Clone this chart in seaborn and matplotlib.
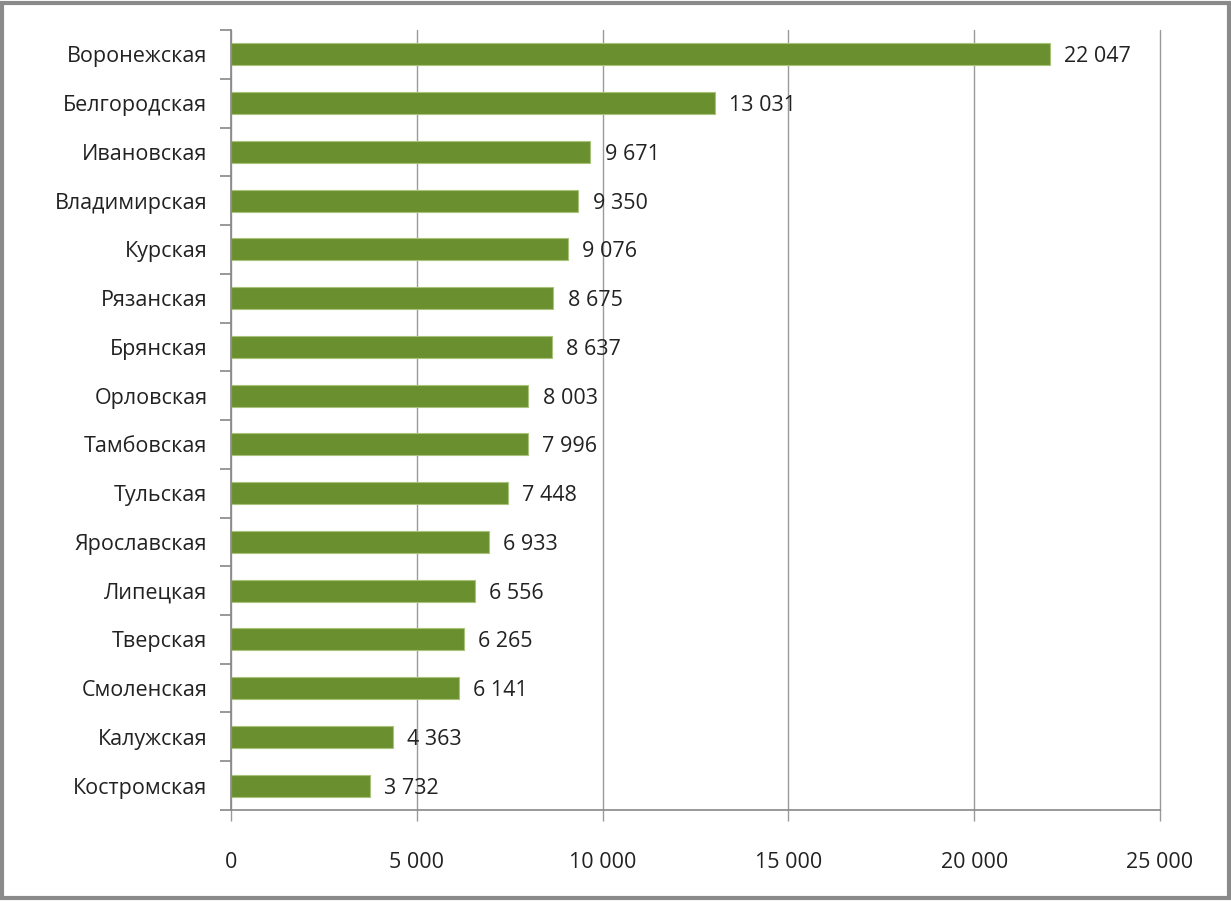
import matplotlib
matplotlib.use("Agg")
import matplotlib.pyplot as plt
import seaborn as sns
import pandas as pd
import numpy as np
from matplotlib.patches import Rectangle

regions = ["Воронежская", "Белгородская", "Ивановская", "Владимирская", "Курская",
           "Рязанская", "Брянская", "Орловская", "Тамбовская", "Тульская",
           "Ярославская", "Липецкая", "Тверская", "Смоленская", "Калужская", "Костромская"]
values = [22047, 13031, 9671, 9350, 9076, 8675, 8637, 8003, 7996, 7448,
          6933, 6556, 6265, 6141, 4363, 3732]
xticks = [0, 5000, 10000, 15000, 20000, 25000]

def fmt(v):
    return f"{v:,}".replace(",", " ")

sns.set_theme(style="white")
plt.rcParams['font.family'] = ['Open Sans', 'DejaVu Sans']

df = pd.DataFrame({"region": regions, "value": values})

fig = plt.figure(figsize=(12.31, 9.01), dpi=100)
ax = fig.add_axes([0.1877, 0.101, 0.9423 - 0.1877, 0.9667 - 0.101])

sns.barplot(data=df, y="region", x="value", orient="h", color="#6a8f2f",
            width=0.45, ax=ax, saturation=1, edgecolor="#a9c47a", linewidth=0.8)

ax.set_xlim(0, 25000)
ax.set_ylim(len(regions) - 0.5, -0.5)
ax.set_xticks(xticks)
ax.set_xticklabels([fmt(t) for t in xticks], fontsize=15.5, color="#222222")
ax.set_xlabel("")
ax.set_ylabel("")
ax.xaxis.grid(True, color="#9a9a9a", linewidth=1.0)
for gl in ax.get_xgridlines():
    gl.set_clip_on(False)
ax.set_axisbelow(True)

# y ticks between categories
ax.set_yticks(np.arange(len(regions)))
ax.set_yticklabels(regions, fontsize=15.5, color="#222222")
ax.tick_params(axis="y", which="major", length=0, pad=17)
ax.set_yticks(np.arange(-0.5, len(regions), 1), minor=True)
ax.tick_params(axis="y", which="minor", left=True, length=8, width=1.2,
               color="#888888", direction="out")
ax.tick_params(axis="x", bottom=True, length=8, width=1.0, color="#9a9a9a",
               direction="out", pad=22)

for s in ["top", "right"]:
    ax.spines[s].set_visible(False)
for s in ["left", "bottom"]:
    ax.spines[s].set_color("#888888")
    ax.spines[s].set_linewidth(1.2)

for i, v in enumerate(values):
    ax.text(v + 380, i, fmt(v), va="center_baseline", ha="left", fontsize=15.5,
            color="#222222")

fig.patches.append(Rectangle((0.002, 0.003), 0.996, 0.994, transform=fig.transFigure,
                             fill=False, edgecolor="#8a8a8a", linewidth=3))

fig.savefig("out.png", dpi=100)
